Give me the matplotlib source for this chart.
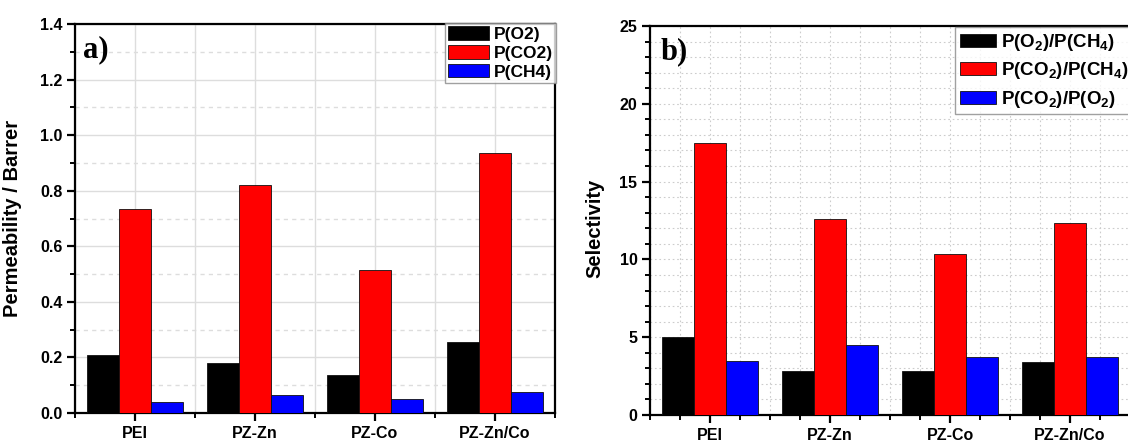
import numpy as np
import matplotlib
matplotlib.use("Agg")
import matplotlib.pyplot as plt
from matplotlib.ticker import MultipleLocator

plt.rcParams['font.family'] = ['Liberation Sans', 'DejaVu Sans']
plt.rcParams['font.weight'] = 'bold'
plt.rcParams['mathtext.fontset'] = 'custom'
plt.rcParams['mathtext.rm'] = 'Liberation Sans:bold'
plt.rcParams['mathtext.bf'] = 'Liberation Sans:bold'
plt.rcParams['mathtext.it'] = 'Liberation Sans:bold'
plt.rcParams['mathtext.default'] = 'bf'

categories = ['PEI', 'PZ-Zn', 'PZ-Co', 'PZ-Zn/Co']

# Panel a: permeability (Barrer)
p_o2 = [0.21, 0.18, 0.135, 0.255]
p_co2 = [0.735, 0.82, 0.515, 0.935]
p_ch4 = [0.04, 0.065, 0.05, 0.075]
labels_a = ['P(O2)', 'P(CO2)', 'P(CH4)']

# Panel b: selectivity
s_o2_ch4 = [5.0, 2.8, 2.8, 3.4]
s_co2_ch4 = [17.5, 12.6, 10.35, 12.35]
s_co2_o2 = [3.5, 4.5, 3.75, 3.7]
labels_b = [r'P(O$_2$)/P(CH$_4$)', r'P(CO$_2$)/P(CH$_4$)', r'P(CO$_2$)/P(O$_2$)']

colors = ['#000000', '#ff0000', '#0000ff']

fig = plt.figure(figsize=(11.28, 4.4), dpi=100)
axa = fig.add_axes([75/1128, 27/440, 480/1128, 389/440])
axb = fig.add_axes([650/1128, 25/440, 480/1128, 389/440])

x = np.arange(1, len(categories) + 1)
w = 0.267


def draw(ax, series, labels):
    for i, (vals, lab) in enumerate(zip(series, labels)):
        ax.bar(x + (i - 1) * w, vals, width=w, color=colors[i],
               edgecolor='#111111', linewidth=0.6, label=lab, zorder=3)
    ax.set_xlim(0.5, 4.5)
    ax.set_xticks(x)
    ax.set_xticklabels(categories, fontsize=11.5, fontweight='bold')
    for sp in ax.spines.values():
        sp.set_linewidth(1.6)
        sp.set_color('black')
    ax.tick_params(axis='both', which='major', direction='out', length=6, width=1.6,
                   labelsize=11.5, top=False, right=False, pad=3)
    ax.tick_params(axis='both', which='minor', direction='out', length=3.5, width=1.4,
                   top=False, right=False)
    for lbl in ax.get_yticklabels():
        lbl.set_fontweight('bold')


draw(axa, [p_o2, p_co2, p_ch4], labels_a)
axa.set_ylim(0, 1.4)
axa.yaxis.set_minor_locator(MultipleLocator(0.1))
axa.xaxis.set_minor_locator(MultipleLocator(0.5))
yt = np.arange(0, 1.41, 0.2)
axa.set_yticks(yt)
axa.set_yticklabels([f'{v:.1f}' for v in yt], fontweight='bold', fontsize=11.5)
axa.grid(True, which='major', color='#dddddd', linewidth=1.0, linestyle='-', zorder=0)
axa.grid(True, which='minor', axis='x', color='#dddddd', linewidth=1.0, linestyle='-', zorder=0)
axa.grid(True, which='minor', axis='y', color='#dddddd', linewidth=1.0, linestyle=(0, (3, 3)), zorder=0)
axa.set_axisbelow(True)
axa.set_ylabel('Permeability / Barrer', fontsize=14.5, fontweight='bold')
axa.yaxis.set_label_coords((22 - 75) / 480, 0.5)
axa.text(0.016, 0.97, 'a)', transform=axa.transAxes, fontsize=22, fontweight='bold',
         family='Liberation Serif', va='top', ha='left')
leg = axa.legend(loc='upper right', bbox_to_anchor=(556/1128, 1 - 23/440),
                 bbox_transform=fig.transFigure, frameon=True, fancybox=False,
                 handlelength=2.35, handleheight=0.8, handletextpad=0.25,
                 borderpad=0.2, labelspacing=0.18, borderaxespad=0.0,
                 prop={'weight': 'bold', 'size': 12.5})
for t in leg.get_texts():
    t.set_fontweight('bold')
leg.get_frame().set_edgecolor('#888888')
leg.get_frame().set_linewidth(1.0)

draw(axb, [s_o2_ch4, s_co2_ch4, s_co2_o2], labels_b)
axb.set_ylim(0, 25)
axb.yaxis.set_major_locator(MultipleLocator(5))
axb.yaxis.set_minor_locator(MultipleLocator(1))
axb.xaxis.set_minor_locator(MultipleLocator(0.25))
axb.grid(True, which='both', color='#cccccc', linewidth=0.8, linestyle=(0, (1.5, 2.5)), zorder=0)
axb.set_axisbelow(True)
axb.set_ylabel('Selectivity', fontsize=14.5, fontweight='bold')
axb.yaxis.set_label_coords((604 - 650) / 480, 0.48)
axb.text(0.022, 0.97, 'b)', transform=axb.transAxes, fontsize=22, fontweight='bold',
         family='Liberation Serif', va='top', ha='left')
legb = axb.legend(loc='upper left', bbox_to_anchor=(955/1128, 1 - 27/440),
                  bbox_transform=fig.transFigure, frameon=True, fancybox=False,
                  handlelength=1.95, handleheight=0.7, handletextpad=0.25,
                  borderpad=0.25, labelspacing=0.4, borderaxespad=0.0,
                  prop={'weight': 'bold', 'size': 13.5})
for t in legb.get_texts():
    t.set_fontweight('bold')
legb.get_frame().set_edgecolor('#888888')
legb.get_frame().set_linewidth(1.0)

fig.savefig('out.png', dpi=100)
